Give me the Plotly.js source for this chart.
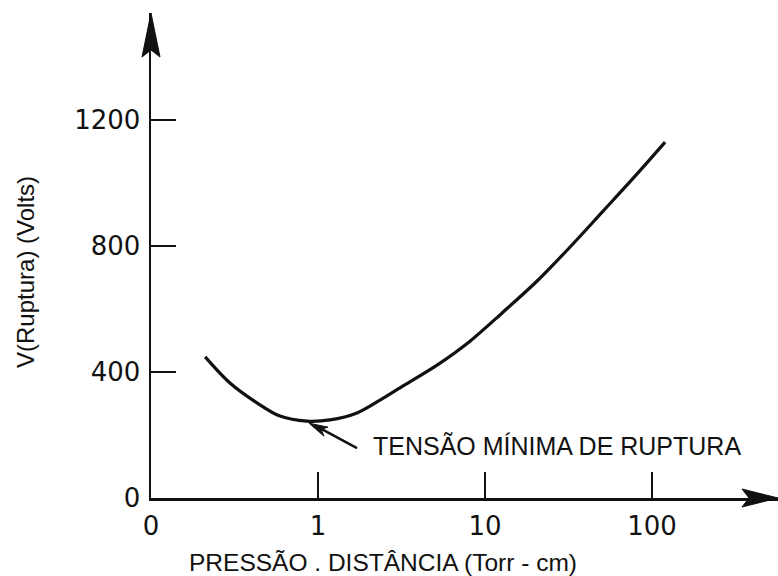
<!DOCTYPE html>
<html>
<head>
<meta charset="utf-8">
<script src="https://cdn.plot.ly/plotly-3.0.1.min.js"></script>
<style>html,body{margin:0;padding:0;background:#fff;}#chart{width:778px;height:576px;}</style>
</head>
<body>
<div id="chart"></div>
<script>
// Paschen curve: breakdown voltage vs pressure·distance
const pressureDistance = [0.211, 0.297, 0.431, 0.592, 0.859, 1.18, 1.71, 2.35, 3.23, 5.16, 8.13, 12.8, 20.5, 32.3, 50.9, 79.1, 119.7];
const breakdownVolts   = [448, 365, 302, 260, 244, 248, 270, 311, 356, 422, 498, 590, 689, 797, 911, 1022, 1130];

const xTickVals = [0.1, 1, 10, 100];
const xTickText = ['0', '1', '10', '100'];
const yTickVals = [0, 400, 800, 1200];
const yTickText = ['0', '400', '800', '1200'];

const xTitle = 'PRESSÃO . DISTÂNCIA (Torr - cm)';
const yTitle = 'V(Ruptura) (Volts)';
const minLabel = 'TENSÃO MÍNIMA DE RUPTURA';

// location of the minimum of the curve (for the annotation arrow)
let iMin = 0;
breakdownVolts.forEach((v, i) => { if (v < breakdownVolts[iMin]) iMin = i; });
const minX = pressureDistance[iMin];
const minY = breakdownVolts[iMin];

const fam = 'Liberation Sans, Arial, sans-serif';
const tickFont = {family: 'DejaVu Sans, sans-serif', size: 26, color: '#111'};

const trace = {
  x: pressureDistance,
  y: breakdownVolts,
  type: 'scatter',
  mode: 'lines',
  line: {color: '#111', width: 3.2, shape: 'spline', smoothing: 0.9},
  hoverinfo: 'x+y'
};

const layout = {
  width: 778, height: 576,
  margin: {l: 151, r: 0, t: 13, b: 78, pad: 0},
  paper_bgcolor: '#fff', plot_bgcolor: '#fff',
  showlegend: false,
  xaxis: {
    type: 'log', range: [-1, 2.754],
    showgrid: false, zeroline: false,
    showline: true, linecolor: '#111', linewidth: 2.5,
    ticks: 'inside', ticklen: 26, tickwidth: 2.5, tickcolor: '#111',
    tickmode: 'array', tickvals: xTickVals, ticktext: xTickText,
    tickfont: tickFont, ticklabelstandoff: 3
  },
  yaxis: {
    range: [0, 1540],
    showgrid: false, zeroline: false,
    showline: true, linecolor: '#111', linewidth: 2.5,
    ticks: 'inside', ticklen: 25, tickwidth: 2.5, tickcolor: '#111',
    tickmode: 'array', tickvals: yTickVals, ticktext: yTickText,
    tickfont: tickFont, ticklabelstandoff: 3
  },
  annotations: [
    {xref: 'paper', yref: 'paper', x: (383 - 151) / 627, y: (498 - 562) / 485, xanchor: 'center', yanchor: 'middle',
     text: xTitle, showarrow: false, font: {family: fam, size: 24.5, color: '#111'}},
    {xref: 'paper', yref: 'paper', x: (25 - 151) / 627, y: (498 - 272) / 485, xanchor: 'center', yanchor: 'middle',
     text: yTitle, textangle: -90, showarrow: false, font: {family: fam, size: 24, color: '#111'}},
    {xref: 'paper', yref: 'paper', x: (371 - 151) / 627, y: (498 - 446) / 485, xanchor: 'left', yanchor: 'middle',
     text: minLabel, showarrow: false, font: {family: fam, size: 25, color: '#111'}}
  ],
  shapes: [
    // y axis arrow head
    {type: 'path', xref: 'paper', yref: 'paper', xsizemode: 'pixel', ysizemode: 'pixel',
     xanchor: 0, yanchor: 1, path: 'M0,0 L-9,-44 L0,-37 L9,-44 Z',
     fillcolor: '#111', line: {color: '#111', width: 1}},
    // x axis arrow head
    {type: 'path', xref: 'paper', yref: 'paper', xsizemode: 'pixel', ysizemode: 'pixel',
     xanchor: 1, yanchor: 0, path: 'M0,0 L-36,9 L-29,0 L-36,-9 Z',
     fillcolor: '#111', line: {color: '#111', width: 1}},
    // arrow to curve minimum: shaft
    {type: 'path', xref: 'x', yref: 'y', xsizemode: 'pixel', ysizemode: 'pixel',
     xanchor: minX, yanchor: minY, path: 'M12,-6.5 L50,-27',
     line: {color: '#111', width: 2.5}},
    // arrow to curve minimum: head
    {type: 'path', xref: 'x', yref: 'y', xsizemode: 'pixel', ysizemode: 'pixel',
     xanchor: minX, yanchor: minY, path: 'M2,-2 L21,-6 L14,-8 L17,-15 Z',
     fillcolor: '#111', line: {color: '#111', width: 1}}
  ]
};

Plotly.newPlot('chart', [trace], layout, {displayModeBar: false, staticPlot: true});
</script>
</body>
</html>
